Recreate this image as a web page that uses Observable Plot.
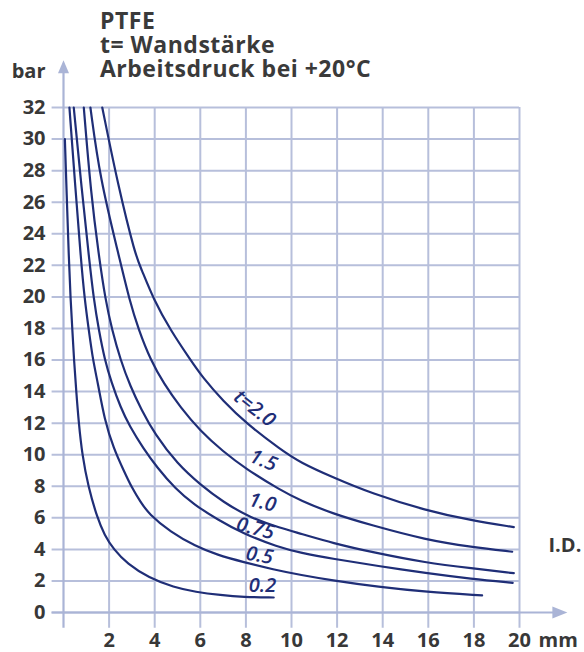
<!DOCTYPE html>
<html><head><meta charset="utf-8">
<script src="https://cdn.jsdelivr.net/npm/d3@7"></script>
<script src="https://cdn.jsdelivr.net/npm/@observablehq/plot@0.6"></script>
<style>
body{margin:0;background:#fff;}
#wrap{position:relative;width:584px;height:652px;}
#title{position:absolute;left:100px;top:8px;font-family:"Open Sans";font-weight:700;font-size:23px;line-height:24px;letter-spacing:0.5px;color:#3a3a3a;}
#title div{height:24px;white-space:nowrap;}
</style></head><body>
<div id="wrap"><div id="title"><div>PTFE</div><div>t= Wandstärke</div><div>Arbeitsdruck bei +20°C</div></div></div>
<script>
// Inner diameter (mm) vs working pressure (bar) for each wall thickness t
const curve020 = [[0.06,30.0],[0.14,26.5],[0.23,22.6],[0.31,19.8],[0.39,17.9],[0.46,16.0],[0.56,14.0],[0.67,12.0],[0.82,10.0],[1.08,8.0],[1.48,6.0],[1.8,4.9],[2.2,4.0],[2.79,3.1],[3.74,2.2],[4.84,1.6],[5.79,1.3],[6.9,1.1],[7.88,0.98],[9.22,0.95]];
const curve050 = [[0.26,32],[0.5,27.3],[0.75,22.6],[0.93,19.8],[1.11,17.9],[1.29,16.0],[1.5,14.6],[1.8,12.2],[2.2,10.4],[2.64,9.0],[3.0,7.9],[3.38,7.0],[3.74,6.25],[4.69,5.1],[5.79,4.2],[6.74,3.65],[7.88,3.2],[9.22,2.72],[10.4,2.38],[11.81,2.03],[13.8,1.62],[15.9,1.3],[18.36,1.08]];
const curve075 = [[0.45,32],[0.8,26.8],[1.11,22.6],[1.33,19.8],[1.55,17.9],[1.81,16.0],[2.1,14.6],[2.5,13.0],[2.9,11.8],[3.5,10.4],[4.1,9.2],[4.9,7.85],[5.72,6.85],[6.74,5.9],[7.88,5.0],[9.4,4.15],[10.4,3.78],[11.8,3.4],[13.8,2.95],[15.9,2.49],[17.9,2.13],[19.7,1.88]];
const curve100 = [[0.89,32],[1.2,26.6],[1.55,22.6],[1.84,19.8],[2.13,17.9],[2.5,16.0],[2.94,14.3],[3.4,12.9],[4.0,11.3],[5.0,9.4],[6.0,8.1],[7.0,7.0],[8.2,6.0],[9.52,5.35],[10.4,5.0],[11.8,4.4],[13.6,3.8],[15.9,3.15],[17.9,2.8],[19.75,2.49]];
const curve150 = [[1.18,32],[1.6,27.5],[2.43,22.6],[2.89,19.8],[3.3,17.9],[3.82,16.0],[4.4,14.5],[5.13,13.0],[6.0,11.5],[7.0,10.2],[8.0,9.1],[9.52,7.75],[10.39,7.1],[11.81,6.26],[13.46,5.55],[15.9,4.6],[17.9,4.15],[19.68,3.85]];
const curve200 = [[1.7,32],[2.4,27.0],[3.16,22.6],[3.38,21.9],[3.96,19.8],[4.69,17.9],[5.57,16.0],[6.1,14.9],[7.0,13.4],[8.0,12.0],[9.55,10.3],[10.39,9.5],[11.81,8.57],[13.5,7.55],[15.9,6.46],[17.9,5.83],[19.75,5.41]];

const thickness = ["0.2","0.5","0.75","1.0","1.5","2.0"];
const curves = [curve020, curve050, curve075, curve100, curve150, curve200];

// curve labels (anchor in mm / bar, rotation in degrees)
const labelText = ["0.2","0.5","0.75","1.0","1.5","t=2.0"];
const labelX = [8.73, 8.6, 8.42, 8.73, 8.77, 8.38];
const labelY = [1.71, 3.61, 5.32, 6.97, 9.63, 12.93];
const labelAngle = [0, 10, 14, 14, 22, 38];

const xTicks = [2,4,6,8,10,12,14,16,18,20];
const yTicks = [0,2,4,6,8,10,12,14,16,18,20,22,24,26,28,30,32];

const rows = curves.flatMap((c, i) => c.map(([d, p]) => ({t: thickness[i], d, p})));
const labels = labelText.map((s, i) => ({s, x: labelX[i], y: labelY[i], a: labelAngle[i]}));

const gridColor = "#b7bfdb";
const axisColor = "#aab4d6";
const ink = "#1f2e77";
const textColor = "#383838";

const arrowRight = {draw(ctx){ ctx.moveTo(8,0); ctx.lineTo(-7,-6); ctx.lineTo(-7,6); ctx.closePath(); }};
const arrowUp = {draw(ctx){ ctx.moveTo(0,-7); ctx.lineTo(5.5,6); ctx.lineTo(-5.5,6); ctx.closePath(); }};

const tickStyle = {fontSize: 20, fontWeight: 700, fill: textColor};

const chart = Plot.plot({
  width: 584, height: 652,
  marginTop: 107, marginBottom: 40, marginLeft: 63, marginRight: 65,
  x: {domain: [0, 20], axis: null},
  y: {domain: [0, 32], axis: null},
  style: {fontFamily: "Open Sans", background: "white", overflow: "visible"},
  marks: [
    Plot.ruleY(yTicks, {x1: -0.5, x2: 20, stroke: gridColor, strokeWidth: 2}),
    Plot.ruleX(xTicks, {y1: -1, y2: 32, stroke: gridColor, strokeWidth: 2}),
    Plot.ruleX([0], {y1: -1, y2: 34.3, stroke: axisColor, strokeWidth: 2.2}),
    Plot.ruleY([0], {x1: -0.5, x2: 21.5, stroke: axisColor, strokeWidth: 2.2}),
    Plot.dot([0], {x: 0, y: 34.55, symbol: arrowUp, fill: axisColor, stroke: "none"}),
    Plot.dot([0], {x: 21.75, y: 0, symbol: arrowRight, fill: axisColor, stroke: "none"}),
    Plot.text(yTicks, {x: 0, y: d => d, text: d => String(d), dx: -18, textAnchor: "end", ...tickStyle}),
    Plot.text(xTicks, {x: d => d, y: 0, text: d => String(d), dy: 28, ...tickStyle}),
    Plot.text(["mm"], {x: 20, y: 0, text: d => d, dx: 19, dy: 28, textAnchor: "start", ...tickStyle}),
    Plot.text(["bar"], {x: 0, y: 32, text: d => d, dx: -18, dy: -36, textAnchor: "end", ...tickStyle}),
    Plot.text(["I.D."], {x: 20, y: 0, text: d => d, dx: 29, dy: -67, textAnchor: "start", ...tickStyle}),
    Plot.line(rows, {x: "d", y: "p", z: "t", stroke: ink, strokeWidth: 2.2, curve: "basis"}),
    Plot.text(labels, {x: "x", y: "y", text: "s", rotate: "a", fontSize: 20, fontWeight: 600, fontStyle: "italic", fill: ink})
  ]
});
document.getElementById("wrap").prepend(chart);
</script>
</body></html>
